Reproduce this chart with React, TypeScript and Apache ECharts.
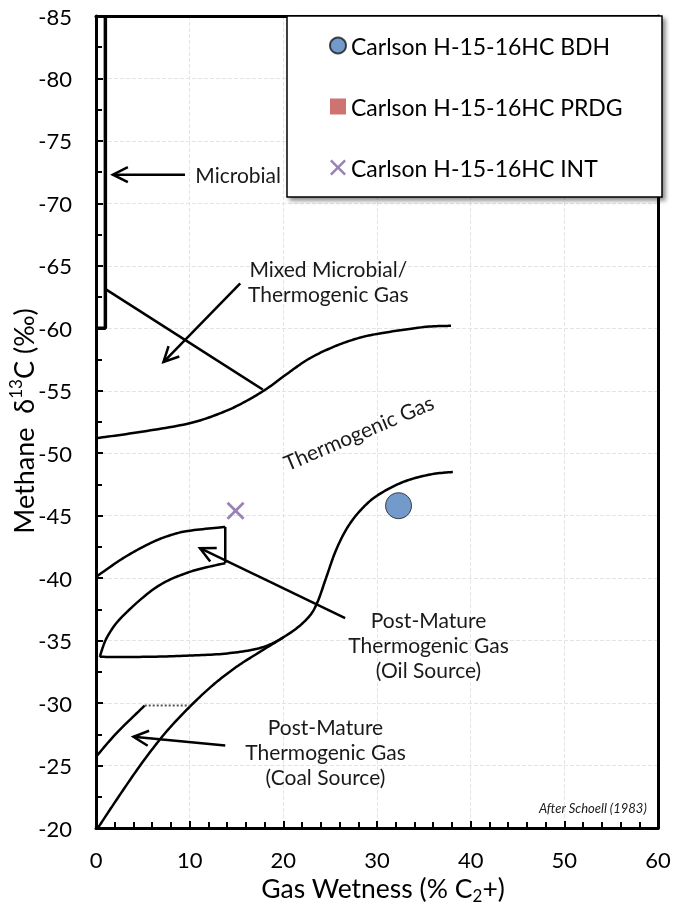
import React, { useEffect, useRef } from 'react';
import * as echarts from 'echarts';

const FONT = 'Lato, "Open Sans", sans-serif';

// ---- axis ----
const X_MIN = 0, X_MAX = 60, X_STEP = 10;
const Y_MIN = -85, Y_MAX = -20, Y_STEP = 5;

// ---- field boundaries (Gas wetness %, methane d13C) ----
const microbialBox = [[0, -60], [1, -60], [1, -85]];
const mixedLine = [[1.1, -63.1], [17.8, -55.1]];
const thermoUpper = [[0, -51.2], [4.7, -51.7], [10, -52.4], [13.6, -53.3], [16.1, -54.2], [18.3, -55.2], [20.3, -56.3], [22.6, -57.5], [25, -58.4], [27.5, -59.1], [30, -59.55], [35, -60.1], [37.9, -60.2]];
const thermoLower = [[0.4, -33.7], [5, -33.7], [10, -33.8], [14.3, -34.0], [17.9, -34.5], [20.7, -35.6], [22.6, -36.8], [23.6, -38.0], [24.6, -40.1], [25.6, -42.2], [26.8, -44.0], [28.2, -45.4], [30, -46.6], [32.8, -47.7], [35.7, -48.3], [38.1, -48.5]];
const oilUpper = [[0, -40.1], [2.9, -41.6], [5.8, -42.8], [8, -43.45], [10, -43.8], [13.8, -44.1]];
const oilSide = [[13.8, -44.1], [13.8, -41.2]];
const oilLower = [[13.8, -41.2], [10, -40.5], [6.5, -39.3], [2.9, -37.0], [1.2, -35.3], [0.4, -33.7]];
const coalLower = [[0.2, -20], [2.5, -22.6], [5, -25.3], [7.5, -27.7], [10, -29.7], [12.5, -31.45], [15, -32.9], [17.5, -34.1], [20, -35.25]];
const coalUpper = [[0, -25.7], [2.2, -27.6], [5.2, -29.8]];
const coalTop = [[5.2, -29.8], [10, -29.8]];

// ---- arrows: [fromX, fromY, toX, toY] ----
const arrows = [
  [9.5, -72.3, 1.8, -72.3],
  [15.4, -63.6, 7.2, -57.3],
  [26.6, -36.8, 11.1, -42.4],
  [13.8, -26.6, 4.0, -27.3],
];

// ---- annotation labels ----
const labelTexts = [
  'Microbial',
  'Mixed Microbial/\nThermogenic Gas',
  'Thermogenic Gas',
  'Post-Mature\nThermogenic Gas\n(Oil Source)',
  'Post-Mature\nThermogenic Gas\n(Coal Source)',
  'After Schoell (1983)',
];
const labelPos = [
  [10.6, -72.3],
  [24.8, -63.8],
  [28.0, -51.7],
  [35.5, -34.7],
  [24.5, -26.1],
  [58.8, -21.6],
];

// ---- samples ----
const seriesNames = ['Carlson H-15-16HC BDH', 'Carlson H-15-16HC PRDG', 'Carlson H-15-16HC INT'];
const bdhData = [[32.3, -45.8]];
const prdgData: number[][] = [];
const intData = [[14.9, -45.4]];

const X_PATH = 'path://M0,1.1 L1.1,0 L5,3.9 L8.9,0 L10,1.1 L6.1,5 L10,8.9 L8.9,10 L5,6.1 L1.1,10 L0,8.9 L3.9,5 Z';

function catmull(pts: number[][], seg = 14): number[][] {
  const out: number[][] = [];
  const n = pts.length;
  for (let i = 0; i < n - 1; i++) {
    const p0 = pts[i - 1] || pts[i];
    const p1 = pts[i];
    const p2 = pts[i + 1];
    const p3 = pts[i + 2] || pts[i + 1];
    for (let k = 0; k < seg; k++) {
      const t = k / seg, t2 = t * t, t3 = t2 * t;
      const f = (a: number, b: number, c: number, d: number) =>
        0.5 * (2 * b + (-a + c) * t + (2 * a - 5 * b + 4 * c - d) * t2 + (-a + 3 * b - 3 * c + d) * t3);
      out.push([f(p0[0], p1[0], p2[0], p3[0]), f(p0[1], p1[1], p2[1], p3[1])]);
    }
  }
  out.push(pts[n - 1]);
  return out;
}

function splineSeries(name: string, pts: number[][]) {
  return {
    type: 'custom', name, silent: true, z: 3,
    data: pts,
    encode: { x: 0, y: 1 },
    renderItem: (params: any, api: any) => {
      if (params.dataIndex !== 0) return null;
      const px = pts.map((p) => api.coord(p));
      return {
        type: 'polyline',
        shape: { points: catmull(px) },
        style: { stroke: '#000', lineWidth: 2.5, fill: 'none', lineJoin: 'round' },
      };
    },
  };
}

function lineSeries(name: string, data: number[][], extra: any = {}) {
  return {
    name, type: 'line', data, symbol: 'none', silent: true, z: 3,
    lineStyle: { color: '#000', width: 2.5, ...extra },
  };
}

export default function App() {
  const ref = useRef<HTMLDivElement>(null);
  useEffect(() => {
    const chart = echarts.init(ref.current!, null, { renderer: 'svg', width: 674, height: 905 });
    const axisCommon = {
      type: 'value',
      axisLine: { show: true, onZero: false, lineStyle: { color: '#000', width: 3 } },
      axisTick: { show: true, inside: true, length: 7, lineStyle: { color: '#000', width: 2 } },
      splitLine: { show: true, lineStyle: { color: '#e4e4e4', width: 1, type: [4, 2] } },
    };
    const frameAxis = {
      type: 'value',
      axisLine: { show: true, onZero: false, lineStyle: { color: '#000', width: 3 } },
      axisTick: { show: false }, axisLabel: { show: false }, splitLine: { show: false },
    };
    const option: any = {
      animation: false,
      grid: { left: 96, right: 16, top: 16, bottom: 77 },
      xAxis: [
        {
          ...axisCommon,
          min: X_MIN, max: X_MAX, interval: X_STEP,
          minorTick: { show: true, splitNumber: 5, length: 6, lineStyle: { color: '#000', width: 2 } },
          axisLabel: { fontSize: 22, color: '#000', margin: 20, fontFamily: FONT },
        },
        { ...frameAxis, position: 'top', min: X_MIN, max: X_MAX },
      ],
      yAxis: [
        {
          ...axisCommon,
          min: Y_MIN, max: Y_MAX, interval: Y_STEP, inverse: true,
          minorTick: { show: true, splitNumber: 2, length: 6, lineStyle: { color: '#000', width: 2 } },
          axisLabel: { fontSize: 22, color: '#000', margin: 24, fontFamily: FONT },
        },
        { ...frameAxis, position: 'right', min: Y_MIN, max: Y_MAX, inverse: true },
      ],
      legend: {
        orient: 'vertical', left: 329, top: 34, itemGap: 38, itemWidth: 16, itemHeight: 16,
        selectedMode: false, z: 120, padding: 0,
        textStyle: { fontSize: 23, color: '#000', fontFamily: FONT },
        data: seriesNames,
      },
      graphic: [
        {
          type: 'rect', z: 100, shape: { x: 287, y: 16, width: 375, height: 181 },
          style: { fill: '#fff', stroke: '#000', lineWidth: 1.5, shadowBlur: 4, shadowOffsetX: 3, shadowOffsetY: 3, shadowColor: 'rgba(0,0,0,0.45)' },
        },
        {
          type: 'text', x: 23, y: 421, rotation: Math.PI / 2, z: 100,
          style: {
            text: '{a|Methane  δ}{s|13}{a|C (‰)}', align: 'center', verticalAlign: 'middle',
            rich: {
              a: { fontSize: 27, fontFamily: FONT, fill: '#000', lineHeight: 32 },
              s: { fontSize: 17, fontFamily: FONT, fill: '#000', verticalAlign: 'top', lineHeight: 32 },
            },
          },
        },
        {
          type: 'text', x: 383, y: 888, z: 100,
          style: {
            text: '{a|Gas Wetness (% C}{s|2}{a|+)}', align: 'center', verticalAlign: 'middle',
            rich: {
              a: { fontSize: 26.5, fontFamily: FONT, fill: '#000', lineHeight: 32 },
              s: { fontSize: 17, fontFamily: FONT, fill: '#000', verticalAlign: 'bottom', lineHeight: 32 },
            },
          },
        },
      ],
      series: [
        lineSeries('microbialBox', microbialBox, { width: 3.5 }),
        lineSeries('mixedLine', mixedLine),
        splineSeries('thermoUpper', thermoUpper),
        splineSeries('thermoLower', thermoLower),
        splineSeries('oilUpper', oilUpper),
        lineSeries('oilSide', oilSide),
        splineSeries('oilLower', oilLower),
        splineSeries('coalLower', coalLower),
        splineSeries('coalUpper', coalUpper),
        lineSeries('coalTop', coalTop, { type: 'dotted', color: '#555', width: 2 }),
        {
          type: 'custom', name: 'arrows', silent: true, z: 4,
          data: arrows,
          encode: { x: [0, 2], y: [1, 3] },
          renderItem: (params: any, api: any) => {
            const p1 = api.coord([api.value(0), api.value(1)]);
            const p2 = api.coord([api.value(2), api.value(3)]);
            const dx = p2[0] - p1[0], dy = p2[1] - p1[1];
            const len = Math.sqrt(dx * dx + dy * dy);
            const ux = dx / len, uy = dy / len;
            const back = 15, half = 7.5;
            const bx = p2[0] - ux * back, by = p2[1] - uy * back;
            const a1 = [bx - uy * half, by + ux * half];
            const a2 = [bx + uy * half, by - ux * half];
            return {
              type: 'group',
              children: [
                { type: 'line', shape: { x1: p1[0], y1: p1[1], x2: p2[0], y2: p2[1] }, style: { stroke: '#000', lineWidth: 2.5 } },
                { type: 'polyline', shape: { points: [a1, p2, a2] }, style: { stroke: '#000', lineWidth: 2.5, fill: 'none' } },
              ],
            };
          },
        },
        {
          type: 'custom', name: 'labels', silent: true, z: 5,
          data: labelPos,
          encode: { x: 0, y: 1 },
          renderItem: (params: any, api: any) => {
            const i = params.dataIndex;
            const p = api.coord([api.value(0), api.value(1)]);
            const base: any = { fill: '#1a1a1a', fontFamily: FONT, fontSize: 21, lineHeight: 25, text: labelTexts[i], align: 'center', verticalAlign: 'middle' };
            if (i === 0) base.align = 'left';
            if (i === 5) { base.align = 'right'; base.fontSize = 13; base.fontStyle = 'italic'; }
            return {
              type: 'text', x: p[0], y: p[1],
              rotation: i === 2 ? (23 * Math.PI) / 180 : 0,
              style: base,
            };
          },
        },
        {
          name: seriesNames[0], type: 'scatter', data: bdhData, symbol: 'circle', symbolSize: 26, z: 6,
          itemStyle: { color: '#4f81bd', borderColor: '#1a1a1a', borderWidth: 1 },
        },
        {
          name: seriesNames[1], type: 'scatter', data: prdgData, symbol: 'rect', symbolSize: 16, z: 6,
          itemStyle: { color: '#c0504d' },
        },
        {
          name: seriesNames[2], type: 'scatter', data: intData, symbol: X_PATH, symbolSize: 18, z: 6,
          itemStyle: { color: '#8064a2' },
        },
      ],
    };
    chart.setOption(option);
    return () => chart.dispose();
  }, []);
  return <div ref={ref} style={{ position: 'fixed', left: 0, top: 0, width: 674, height: 905 }} />;
}
